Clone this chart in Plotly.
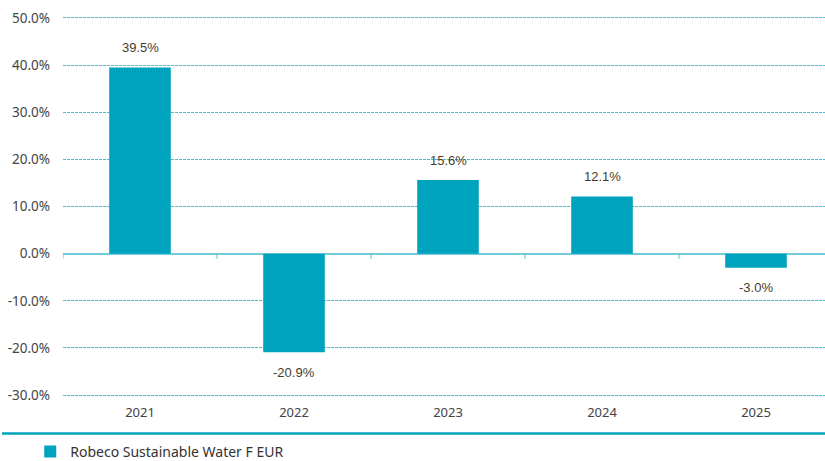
import plotly.graph_objects as go

categories = ["2021", "2022", "2023", "2024", "2025"]
values = [39.5, -20.9, 15.6, 12.1, -3.0]
series_name = "Robeco Sustainable Water F EUR"
y_ticks = [50, 40, 30, 20, 10, 0, -10, -20, -30]

BAR = "#00A3BE"
GRID = "#4DBCD2"
ZERO = "#74CCDA"

fig = go.Figure()
fig.add_trace(go.Bar(
    x=list(range(len(categories))), y=values, name=series_name,
    marker=dict(color=BAR, line=dict(width=0)), width=0.4,
    showlegend=True,
))

for i, v in enumerate(values):
    fig.add_annotation(
        x=i, y=v, text=f"{v:.1f}%", showarrow=False,
        yshift=20 if v >= 0 else -20,
        font=dict(family="Liberation Sans, Arial", size=13, color="#463C2A"),
    )

# small ticks at category boundaries on the zero line
for i in range(len(categories) + 1):
    fig.add_shape(type="line", xref="x", yref="y",
                  x0=i - 0.5, x1=i - 0.5, y0=0, y1=-1.1,
                  line=dict(color="#4FC0D3", width=1))

# thick line under the axis labels
fig.add_shape(type="line", xref="paper", yref="paper",
              x0=-0.08, x1=1.0, y0=-0.096, y1=-0.096,
              line=dict(color=BAR, width=2.5))

fig.update_layout(
    width=825, height=461, autosize=False,
    margin=dict(l=63, r=0, t=16, b=64, autoexpand=False),
    plot_bgcolor="white", paper_bgcolor="white",
    font=dict(family="Noto Sans, Open Sans, sans-serif", size=13, color="#444444"),
    bargap=0.6,
    xaxis=dict(
        tickmode="array", tickvals=list(range(len(categories))), ticktext=categories,
        range=[-0.5, 4.448], showgrid=False, zeroline=False, showline=False,
        ticks="", ticklabelstandoff=6, tickfont=dict(size=13, color="#444444"),
    ),
    yaxis=dict(
        range=[-30.4, 50.4], tickmode="array", tickvals=y_ticks,
        ticktext=[f"{t:.1f}%" for t in y_ticks],
        showgrid=True, gridcolor=GRID, gridwidth=1, griddash="3px,1px",
        zeroline=True, zerolinecolor=ZERO, zerolinewidth=2,
        showline=False, ticks="", ticklabelstandoff=12,
        tickfont=dict(size=13.5, color="#444444"),
    ),
    legend=dict(orientation="h", x=-0.043, xanchor="left", y=-0.102, yanchor="top",
                font=dict(size=14, color="#333333"), bgcolor="rgba(0,0,0,0)"),
)

fig.write_html("out.html", config={"displayModeBar": False},
               post_script="document.body.style.margin='0';document.body.style.overflow='hidden';")
